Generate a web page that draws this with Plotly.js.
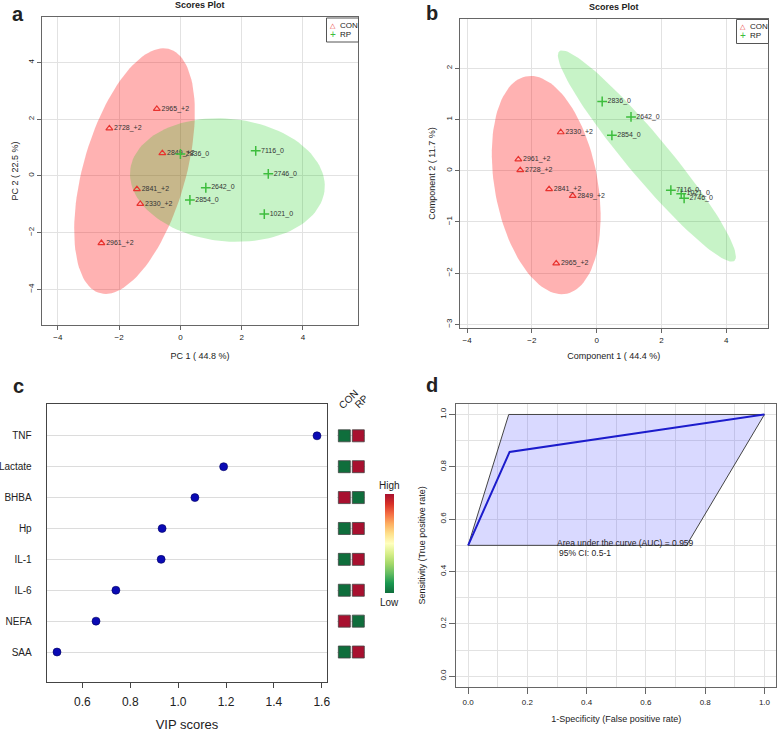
<!DOCTYPE html>
<html>
<head>
<meta charset="utf-8">
<script src="https://cdn.plot.ly/plotly-3.0.1.min.js"></script>
<style>
  html, body { margin: 0; padding: 0; background: #fff; }
  #fig { width: 778px; height: 732px; }
</style>
</head>
<body>
<div id="fig"></div>
<script>
// ---- panel a: PCA scores ----
const pcaConNames = ['2965_+2', '2728_+2', '2849_+2', '2841_+2', '2330_+2', '2961_+2'];
const pcaConX = [-0.77, -2.32, -0.59, -1.42, -1.31, -2.58];
const pcaConY = [2.36, 1.67, 0.80, -0.47, -0.99, -2.37];
const pcaRpNames = ['2836_0', '7116_0', '2746_0', '2642_0', '2854_0', '1021_0'];
const pcaRpX = [0.00, 2.46, 2.87, 0.83, 0.31, 2.74];
const pcaRpY = [0.77, 0.88, 0.07, -0.42, -0.85, -1.35];

// ---- panel b: PLS-DA scores ----
const plsConNames = ['2330_+2', '2961_+2', '2728_+2', '2841_+2', '2849_+2', '2965_+2'];
const plsConX = [-1.11, -2.42, -2.36, -1.47, -0.74, -1.25];
const plsConY = [0.75, 0.22, 0.01, -0.36, -0.49, -1.81];
const plsRpNames = ['2836_0', '2642_0', '2854_0', '7116_0', '1021_0', '2746_0'];
const plsRpX = [0.17, 1.06, 0.47, 2.29, 2.61, 2.70];
const plsRpY = [1.35, 1.05, 0.69, -0.38, -0.45, -0.54];

const groupNames = ['CON', 'RP'];

// ---- panel c: VIP scores ----
const vipNames = ['SAA', 'NEFA', 'IL-6', 'IL-1', 'Hp', 'BHBA', 'Lactate', 'TNF'];
const vipScores = [0.494, 0.657, 0.74, 0.929, 0.933, 1.07, 1.19, 1.58];
const vipCon = [0, 1, 0, 0, 0, 1, 0, 0];   // 1 = high, 0 = low
const vipRp = [1, 0, 1, 1, 1, 0, 1, 1];
const vipTicks = [0.6, 0.8, 1.0, 1.2, 1.4, 1.6];
const vipTickText = ['0.6', '0.8', '1.0', '1.2', '1.4', '1.6'];

// ---- panel d: ROC ----
const rocX = [0, 0.14, 1];
const rocY = [0.5, 0.857, 1];
const ciX = [0, 0.137, 1, 0.737, 0];
const ciY = [0.5, 1, 1, 0.5, 0.5];
const rocTicks = [0, 0.2, 0.4, 0.6, 0.8, 1.0];
const rocTickText = ['0.0', '0.2', '0.4', '0.6', '0.8', '1.0'];

const W = 778, H = 732;
const px = v => v / W;
const py = v => 1 - v / H;
const FONT = 'Liberation Sans, Arial, sans-serif';
const RED = '#e8322e', GREEN = '#3dbd3d';

// 95% confidence ellipse from the points' covariance
function ellipse95(xs, ys) {
    const n = xs.length;
    const mx = xs.reduce((a, b) => a + b, 0) / n;
    const my = ys.reduce((a, b) => a + b, 0) / n;
    let sxx = 0, syy = 0, sxy = 0;
    for (let i = 0; i < n; i++) {
        sxx += (xs[i] - mx) ** 2;
        syy += (ys[i] - my) ** 2;
        sxy += (xs[i] - mx) * (ys[i] - my);
    }
    sxx /= n - 1; syy /= n - 1; sxy /= n - 1;
    const tr = sxx + syy, det = sxx * syy - sxy * sxy;
    const d = Math.sqrt(tr * tr / 4 - det);
    const l1 = tr / 2 + d, l2 = tr / 2 - d;
    const th = Math.atan2(l1 - sxx, sxy);
    const t = Math.sqrt(5.991);
    const ex = [], ey = [];
    for (let i = 0; i <= 120; i++) {
        const a = 2 * Math.PI * i / 120;
        const u = t * Math.sqrt(l1) * Math.cos(a), v = t * Math.sqrt(l2) * Math.sin(a);
        ex.push(mx + u * Math.cos(th) - v * Math.sin(th));
        ey.push(my + u * Math.sin(th) + v * Math.cos(th));
    }
    return { x: ex, y: ey };
}

function scoreTraces(cx, cy, cn, rx, ry, rn, xa, ya) {
    const eCon = ellipse95(cx, cy), eRp = ellipse95(rx, ry);
    return [
        { x: eCon.x, y: eCon.y, xaxis: xa, yaxis: ya, mode: 'lines', fill: 'toself',
          fillcolor: 'rgba(255,0,0,0.3)', line: { width: 0 }, showlegend: false, hoverinfo: 'skip' },
        { x: eRp.x, y: eRp.y, xaxis: xa, yaxis: ya, mode: 'lines', fill: 'toself',
          fillcolor: 'rgba(0,200,0,0.22)', line: { width: 0 }, showlegend: false, hoverinfo: 'skip' },
        { x: cx, y: cy, text: cn, name: groupNames[0], showlegend: false, xaxis: xa, yaxis: ya, mode: 'markers+text',
          textposition: 'middle right', textfont: { size: 7, color: '#333' },
          marker: { symbol: 'triangle-up-open', size: 6, color: RED, line: { width: 1.2 } } },
        { x: rx, y: ry, text: rn, name: groupNames[1], showlegend: false, xaxis: xa, yaxis: ya, mode: 'markers+text',
          textposition: 'middle right', textfont: { size: 7, color: '#333' },
          marker: { symbol: 'cross-thin-open', size: 7, color: GREEN, line: { width: 1.5, color: GREEN } } }
    ];
}

const traces = [
    ...scoreTraces(pcaConX, pcaConY, pcaConNames, pcaRpX, pcaRpY, pcaRpNames, 'x', 'y'),
    ...scoreTraces(plsConX, plsConY, plsConNames, plsRpX, plsRpY, plsRpNames, 'x2', 'y2'),
    // VIP dots
    { x: vipScores, y: vipNames.map((_, i) => i + 1), xaxis: 'x3', yaxis: 'y3', mode: 'markers',
      showlegend: false, marker: { symbol: 'circle', size: 8, color: '#0a0ab4', line: { width: 0.6, color: '#000060' } } },
    // CON / RP heat boxes + colour key
    { x: vipNames.map(() => 1).concat(vipNames.map(() => 2)),
      y: vipNames.map((_, i) => i + 1).concat(vipNames.map((_, i) => i + 1)),
      xaxis: 'x5', yaxis: 'y3', mode: 'markers', showlegend: false,
      marker: {
          symbol: 'square', size: 12, color: vipCon.concat(vipRp), cmin: 0, cmax: 1,
          colorscale: [[0, '#0f6e3c'], [0.1, '#1a9850'], [0.2, '#66bd63'], [0.3, '#a6d96a'], [0.4, '#d9ef8b'],
                       [0.5, '#ffffbf'], [0.6, '#fee08b'], [0.7, '#fdae61'], [0.8, '#f46d43'], [0.9, '#d73027'], [1, '#a8102f']],
          line: { width: 0.8, color: '#444' },
          showscale: true,
          colorbar: { x: px(385), xanchor: 'left', y: py(543.5), yanchor: 'middle', len: 99, lenmode: 'pixels',
                      thickness: 9, outlinewidth: 0, showticklabels: false, ticks: '', xpad: 0, ypad: 0 }
      } },
    // ROC CI band and curve
    { x: ciX, y: ciY, xaxis: 'x4', yaxis: 'y4', mode: 'lines', fill: 'toself', fillcolor: 'rgba(80,80,255,0.22)',
      line: { color: '#444', width: 1 }, showlegend: false },
    { x: rocX, y: rocY, xaxis: 'x4', yaxis: 'y4', mode: 'lines', line: { color: '#1c1ccc', width: 2 }, showlegend: false }
];

const frame = { showline: true, mirror: true, linecolor: '#666', linewidth: 1, zeroline: false,
                ticks: 'outside', ticklen: 4, tickcolor: '#666', gridcolor: '#e2e2e2' };

// small boxed keys for the score plots (x0, y0 = top-left in pixels)
function keyBox(x0, y0) {
    return {
        shape: { type: 'rect', xref: 'paper', yref: 'paper', x0: px(x0), x1: px(x0 + 32), y0: py(y0), y1: py(y0 + 24),
                 line: { color: '#555', width: 1 }, fillcolor: '#fff' },
        notes: [
            { text: '△', x: px(x0 + 6), y: py(y0 + 7.5), xanchor: 'center', font: { size: 7, color: RED } },
            { text: '+', x: px(x0 + 6), y: py(y0 + 16), xanchor: 'center', font: { size: 10, color: GREEN } },
            { text: groupNames[0], x: px(x0 + 11), y: py(y0 + 7.5), xanchor: 'left', font: { size: 8 } },
            { text: groupNames[1], x: px(x0 + 11), y: py(y0 + 16), xanchor: 'left', font: { size: 8 } }
        ]
    };
}
const keyA = keyBox(326.5, 18), keyB = keyBox(736.5, 19.5);

const layout = {
    width: W, height: H, margin: { l: 0, r: 0, t: 0, b: 0 }, showlegend: false,
    paper_bgcolor: '#fff', plot_bgcolor: '#fff',
    font: { family: FONT, color: '#222' },
    xaxis: { ...frame, domain: [px(42), px(358)], anchor: 'y', range: [-4.52, 5.8], tickvals: [-4, -2, 0, 2, 4],
             tickfont: { size: 8 }, title: { text: 'PC 1 ( 44.8 %)', font: { size: 9 }, standoff: 12 } },
    yaxis: { ...frame, domain: [py(325), py(17)], anchor: 'x', range: [-5.26, 5.6], tickvals: [-4, -2, 0, 2, 4],
             tickangle: -90, tickfont: { size: 8 }, title: { text: 'PC 2 ( 22.5 %)', font: { size: 9 }, standoff: 6 } },
    xaxis2: { ...frame, domain: [px(459.7), px(768)], anchor: 'y2', range: [-4.23, 5.29], tickvals: [-4, -2, 0, 2, 4],
              tickfont: { size: 8 }, title: { text: 'Component 1 ( 44.4 %)', font: { size: 9 }, standoff: 9 } },
    yaxis2: { ...frame, domain: [py(328), py(19)], anchor: 'x2', range: [-3.07, 2.96], tickvals: [-3, -2, -1, 0, 1, 2],
              tickangle: -90, tickfont: { size: 8 }, title: { text: 'Component 2 ( 11.7 %)', font: { size: 9 }, standoff: 7 } },
    xaxis3: { ...frame, domain: [px(46.7), px(327.3)], anchor: 'y3', range: [0.451, 1.623], tickvals: vipTicks,
              ticktext: vipTickText, ticklen: 5, showgrid: false, linecolor: '#444', tickcolor: '#444',
              ticklabelstandoff: 3, tickfont: { size: 12 }, title: { text: 'VIP scores', font: { size: 13 }, standoff: 19 } },
    yaxis3: { ...frame, domain: [py(682.3), py(404.3)], anchor: 'x3', range: [0.02, 9.02],
              tickvals: vipNames.map((_, i) => i + 1), ticktext: vipNames, ticks: '', ticklabelstandoff: 12,
              linecolor: '#444', gridcolor: '#dcdcdc', tickfont: { size: 10 } },
    xaxis5: { domain: [px(337.3), px(365.3)], anchor: 'y3', range: [0.5, 2.5], visible: false },
    xaxis4: { ...frame, domain: [px(456.3), px(776.3)], anchor: 'y4', range: [-0.04, 1.04], tickvals: rocTicks,
              ticktext: rocTickText, ticklen: 6, ticklabelstandoff: 2, tickfont: { size: 8 },
              minor: { dtick: 0.1, showgrid: true, gridcolor: '#e2e2e2' },
              title: { text: '1-Specificity (False positive rate)', font: { size: 9 }, standoff: 9 } },
    yaxis4: { ...frame, domain: [py(686.7), py(404)], anchor: 'x4', range: [-0.04, 1.04], tickvals: rocTicks,
              ticktext: rocTickText, ticklen: 6, tickangle: -90, tickfont: { size: 8 },
              minor: { dtick: 0.1, showgrid: true, gridcolor: '#e2e2e2' },
              title: { text: 'Sensitivity (True positive rate)', font: { size: 9 }, standoff: 11 } },
    shapes: [keyA.shape, keyB.shape],
    annotations: [
        { text: '<b>a</b>', x: px(10), y: py(14), xanchor: 'left', font: { size: 20 } },
        { text: '<b>b</b>', x: px(424), y: py(13), xanchor: 'left', font: { size: 20 } },
        { text: '<b>c</b>', x: px(11), y: py(386), xanchor: 'left', font: { size: 20 } },
        { text: '<b>d</b>', x: px(424), y: py(385), xanchor: 'left', font: { size: 20 } },
        { text: '<b>Scores Plot</b>', x: px(200), y: py(5), xanchor: 'center', font: { size: 9 } },
        { text: '<b>Scores Plot</b>', x: px(614), y: py(7), xanchor: 'center', font: { size: 9 } },
        { text: groupNames[0], x: px(348), y: py(399), textangle: -45, xanchor: 'center', font: { size: 10 } },
        { text: groupNames[1], x: px(361), y: py(401), textangle: -45, xanchor: 'center', font: { size: 10 } },
        { text: 'High', x: px(389.5), y: py(486), xanchor: 'center', font: { size: 10 } },
        { text: 'Low', x: px(389.5), y: py(602), xanchor: 'center', font: { size: 10 } },
        { text: 'Area under the curve (AUC) = 0.959', x: px(555), y: py(543), xanchor: 'left', font: { size: 8.5 } },
        { text: '95% CI: 0.5-1', x: px(557), y: py(552.5), xanchor: 'left', font: { size: 8.5 } },
        ...keyA.notes, ...keyB.notes
    ].map(a => Object.assign({ xref: 'paper', yref: 'paper', yanchor: 'middle', showarrow: false }, a))
};

Plotly.newPlot('fig', traces, layout, { displayModeBar: false, staticPlot: true });
</script>
</body>
</html>
